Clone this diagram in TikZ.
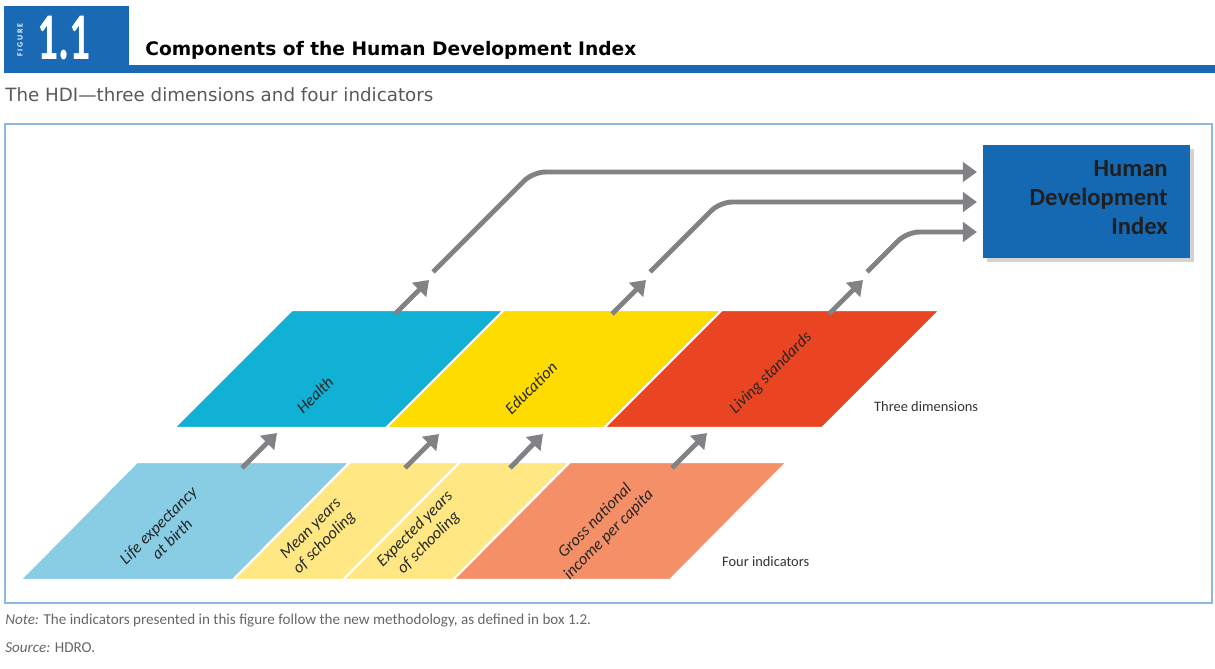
\documentclass[tikz,border=0pt]{standalone}
\usepackage{fontspec}
\setmainfont{Carlito}
\newfontfamily\widefont{DejaVu Sans}
\usetikzlibrary{arrows.meta, shadows}

\definecolor{hdrblue}{HTML}{1A69B4}
\definecolor{hdiblue}{HTML}{1568B2}
\definecolor{framec}{HTML}{8DB8E3}
\definecolor{healthc}{HTML}{11B1D6}
\definecolor{educ}{HTML}{FFDC00}
\definecolor{livingc}{HTML}{EA4522}
\definecolor{lifec}{HTML}{89CDE5}
\definecolor{schoolc}{HTML}{FFE883}
\definecolor{gnic}{HTML}{F48F67}
\definecolor{arrowgray}{HTML}{808285}

\tikzset{
  panel/.style={draw=white, line width=1.2pt},
  paneltext/.style={rotate=45, font=\itshape\fontsize{9.4}{11}\selectfont, align=center, text=black!85},
  rowlabel/.style={anchor=west, font=\fontsize{8.2}{10}\selectfont, text=black!80},
  flow/.style={draw=arrowgray, line width=2.8pt, -{Triangle[length=8pt,width=11pt]}},
  longflow/.style={flow, rounded corners=7pt},
}

\begin{document}
\begin{tikzpicture}[x=0.02cm, y=-0.02cm]
    \useasboundingbox (0,0) rectangle (1215,669);

    % header
    \fill[hdrblue] (4,6) rectangle (129,73);
    \fill[hdrblue] (129,65) rectangle (1215,73);
    \node[white, rotate=90, font=\bfseries\fontsize{4.5}{5}\selectfont] (figword) at (20,40) {F I G U R E};
    \node[white, anchor=base west, inner sep=0pt] (fignum) at (37,60)
        {\scalebox{0.62}[1]{\bfseries\fontsize{38}{40}\selectfont 1.1}};
    \node[anchor=base west, inner sep=0pt, font=\widefont\bfseries\fontsize{10.6}{12}\selectfont] (title) at (145,56)
        {Components of the Human Development Index};
    \node[anchor=base west, inner sep=0pt, text=black!65, font=\widefont\fontsize{10.4}{12}\selectfont] (subtitle) at (5,102)
        {The HDI—three dimensions and four indicators};

    % frame
    \draw[framec, line width=1.6pt] (5,124) rectangle (1212,603);

    % three dimensions
    \fill[healthc, panel] (174,428) -- (292,310) -- (504,310) -- (386,428) -- cycle;
    \fill[educ, panel] (386,428) -- (504,310) -- (722,310) -- (604,428) -- cycle;
    \fill[livingc, panel] (604,428) -- (722,310) -- (940,310) -- (822,428) -- cycle;
    \node[paneltext] (health) at (315,395) {Health};
    \node[paneltext] (edu) at (531,388) {Education};
    \node[paneltext] (living) at (771,373) {Living standards};
    \node[rowlabel] (dims) at (868,407) {Three dimensions};

    % four indicators
    \fill[lifec, panel] (20,580) -- (137,462) -- (350,462) -- (233,580) -- cycle;
    \fill[schoolc, panel] (233,580) -- (350,462) -- (460,462) -- (343,580) -- cycle;
    \fill[schoolc, panel] (343,580) -- (460,462) -- (570,462) -- (453,580) -- cycle;
    \fill[gnic, panel] (453,580) -- (570,462) -- (787,462) -- (670,580) -- cycle;
    \node[paneltext] (life) at (165,532) {Life expectancy\\at birth};
    \node[paneltext] (mean) at (318,536) {Mean years\\of schooling};
    \node[paneltext] (expected) at (422,536) {Expected years\\of schooling};
    \node[paneltext] (gni) at (602,528) {Gross national\\income per capita};
    \node[rowlabel] (inds) at (716,562) {Four indicators};

    % index box
    \node[fill=hdiblue, drop shadow={shadow xshift=2pt, shadow yshift=-2pt, opacity=0.35},
          minimum width=4.14cm, minimum height=2.26cm, anchor=north west] (hdi) at (983,145) {};
    \node[anchor=north east, align=right, inner sep=0pt, text=black!88,
          font=\bfseries\fontsize{14}{16.5}\selectfont] (hdiname) at (1168,160)
        {Human\\Development\\Index};

    % arrow ends
    \coordinate (lifeout) at (242,468);   \coordinate (healthin) at (277,433);
    \coordinate (meanout) at (405,468);   \coordinate (eduin1) at (439,434);
    \coordinate (expout) at (510,468);    \coordinate (eduin2) at (543,434);
    \coordinate (gniout) at (672,468);    \coordinate (livingin) at (707,433);
    \coordinate (healthout) at (395,314); \coordinate (healthtip) at (429,280);
    \coordinate (eduout) at (612,314);    \coordinate (edutip) at (646,280);
    \coordinate (livingout) at (829,314); \coordinate (livingtip) at (863,280);
    \coordinate (hdi1) at (977,172);
    \coordinate (hdi2) at (977,202);
    \coordinate (hdi3) at (977,232);

    % indicators to dimensions
    \draw[flow] (lifeout) -- (healthin);
    \draw[flow] (meanout) -- (eduin1);
    \draw[flow] (expout) -- (eduin2);
    \draw[flow] (gniout) -- (livingin);

    % dimensions to index
    \draw[flow] (healthout) -- (healthtip);
    \draw[flow] (eduout) -- (edutip);
    \draw[flow] (livingout) -- (livingtip);
    \draw[longflow] (433,272) -- (533,172) -- (hdi1);
    \draw[longflow] (650,272) -- (720,202) -- (hdi2);
    \draw[longflow] (867,272) -- (907,232) -- (hdi3);

    % notes
    \node[anchor=base west, inner sep=0pt, text=black!60, font=\fontsize{8.6}{10}\selectfont] (note) at (5,624)
        {\textit{Note:} The indicators presented in this figure follow the new methodology, as defined in box 1.2.};
    \node[anchor=base west, inner sep=0pt, text=black!60, font=\fontsize{8.6}{10}\selectfont] (source) at (5,652)
        {\textit{Source:} HDRO.};
\end{tikzpicture}
\end{document}
